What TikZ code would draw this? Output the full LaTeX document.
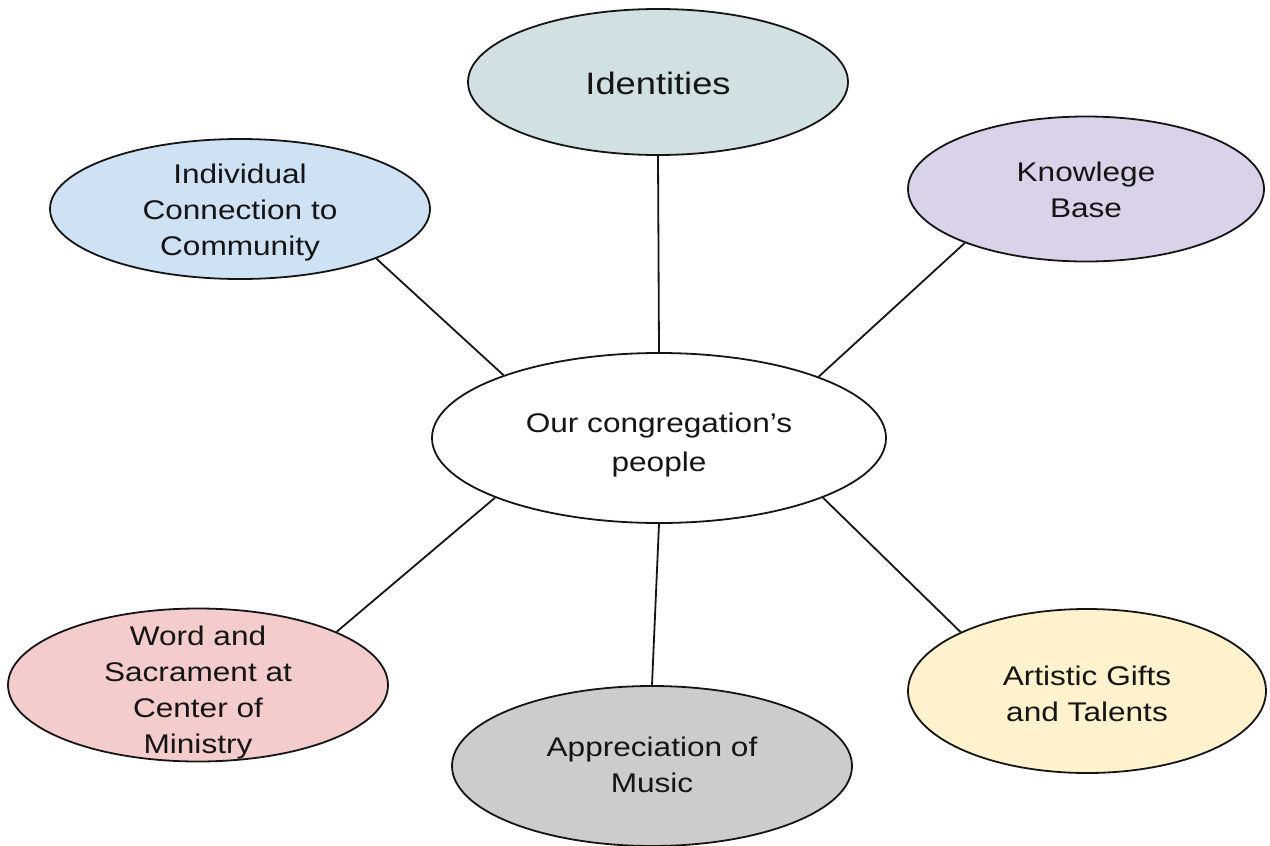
\documentclass[tikz,border=0pt]{standalone}
\usepackage{fontspec}
\setmainfont{Liberation Sans}[FakeStretch=1.17]
\usetikzlibrary{shapes.geometric}
\definecolor{cid}{HTML}{D0E0E3}
\definecolor{cind}{HTML}{CFE2F3}
\definecolor{ckb}{HTML}{D9D2E9}
\definecolor{cws}{HTML}{F4CCCC}
\definecolor{cam}{HTML}{CCCCCC}
\definecolor{cag}{HTML}{FFF2CC}
\definecolor{ink}{HTML}{151515}
\tikzset{
  bub/.style={ellipse, draw=ink, line width=1.8pt, inner sep=0pt},
  lbl/.style={align=center, text=ink, inner sep=0pt, anchor=base,
    font=\fontsize{27}{36}\selectfont},
  link/.style={draw=ink, line width=1.8pt}
}
\begin{document}
\begin{tikzpicture}[x=1pt,y=-1pt]
\useasboundingbox (0,0) rectangle (1270,846);
\fill[white] (0,0) rectangle (1270,846);
\node[bub, fill=cid, minimum width=380, minimum height=146] (id) at (658,82) {};
\node[bub, fill=cind, minimum width=380, minimum height=140] (ind) at (240,209) {};
\node[bub, fill=ckb, minimum width=356, minimum height=145] (kb) at (1086,189) {};
\node[bub, fill=white, minimum width=454, minimum height=170] (c) at (659,438) {};
\node[bub, fill=cws, minimum width=380, minimum height=153] (ws) at (198,685) {};
\node[bub, fill=cam, minimum width=400, minimum height=160] (am) at (652,766) {};
\node[bub, fill=cag, minimum width=358, minimum height=164] (ag) at (1087,691) {};
\node[lbl, font=\fontsize{31}{38}\selectfont] (id-t) at ([yshift=-12pt]id.center) {Identities};
\node[lbl] (ind-t) at ([yshift=-46pt]ind.center) {Individual\\Connection to\\Community};
\node[lbl] (kb-t) at ([yshift=-28pt]kb.center) {Knowlege\\Base};
\node[lbl, font=\fontsize{27}{39}\selectfont] (c-t) at ([yshift=-33pt]c.center) {Our congregation’s\\people};
\node[lbl] (ws-t) at ([yshift=-68pt]ws.center) {Word and\\Sacrament at\\Center of\\Ministry};
\node[lbl] (am-t) at ([yshift=-26pt]am.center) {Appreciation of\\Music};
\node[lbl] (ag-t) at ([yshift=-30pt]ag.center) {Artistic Gifts\\and Talents};
\draw[link] (ind.-20.7) -- (c.158.9);
\draw[link] (id.south) -- (c.north);
\draw[link] (kb.-156.6) -- (c.21.1);
\draw[link] (ws.21.1) -- (c.200.8);
\draw[link] (am.north) -- (c.south);
\draw[link] (ag.155.3) -- (c.-20.8);
\end{tikzpicture}
\end{document}
